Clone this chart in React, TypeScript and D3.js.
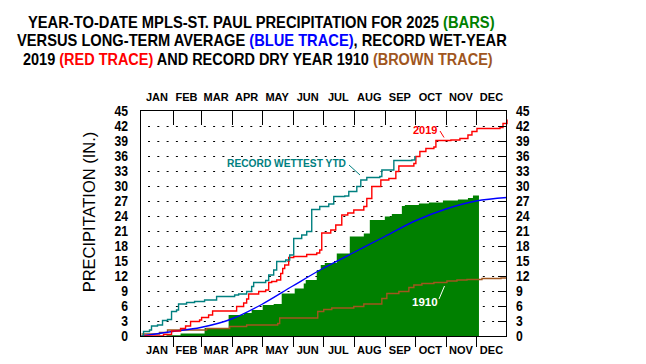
import React, { useLayoutEffect, useRef, useState } from 'react';
import * as d3 from 'd3';

// day-of-year, cumulative inches
const monthNames = ['JAN', 'FEB', 'MAR', 'APR', 'MAY', 'JUN', 'JUL', 'AUG', 'SEP', 'OCT', 'NOV', 'DEC'];
const monthStarts = [0, 31, 59, 90, 120, 151, 181, 212, 243, 273, 304, 334, 365];
const yTicks = [0, 3, 6, 9, 12, 15, 18, 21, 24, 27, 30, 33, 36, 39, 42, 45];

const ytd2025: [number, number][] = [
  [0, 0], [25, 0.15], [39, 0.5], [63, 1.6], [87, 4.2], [102, 4.6], [110, 5.2], [121, 6.2],
  [132, 6.4], [140, 8.5], [153, 9.5], [162, 10.5], [164, 11.2], [175, 13.2], [179, 14.2],
  [183, 14.6], [195, 16.5], [208, 19.9], [222, 20.5], [228, 23.2], [243, 23.9], [250, 24.4],
  [260, 26.0], [263, 26.2], [277, 26.5], [287, 26.7], [301, 27.1], [316, 27.3], [326, 27.6],
  [331, 28.1], [337, 28.1],
];

// long-term average, cumulative at each month boundary
const avgMonthEnd = [0, 0.9, 1.7, 3.4, 6.3, 10.0, 13.5, 16.7, 19.9, 23.0, 25.4, 27.0, 27.7];

const wet2019: [number, number][] = [
  [0, 0], [22, 0.3], [30, 1.0], [39, 1.5], [44, 2.0], [49, 2.9], [58, 3.2], [60, 3.7],
  [67, 4.2], [71, 5.0], [95, 5.9], [102, 6.6], [105, 7.4], [107, 8.4], [117, 8.9], [124, 9.2],
  [127, 10.7], [130, 10.9], [135, 11.2], [139, 12.5], [141, 13.5], [143, 14.2], [147, 15.7],
  [152, 15.9], [165, 16.3], [175, 16.6], [178, 17.2], [180, 20.6], [189, 21.2], [194, 22.2],
  [200, 24.2], [206, 24.6], [212, 25.2], [222, 25.9], [225, 27.5], [230, 29.9], [239, 31.2],
  [247, 31.5], [254, 32.9], [257, 34.0], [272, 34.5], [274, 35.9], [278, 36.9], [284, 37.5],
  [292, 37.8], [294, 39.1], [309, 39.2], [318, 39.5], [326, 40.2], [330, 40.9], [335, 41.5],
  [358, 41.7], [361, 42.5], [365, 43.3],
];

const recordYtd: [number, number][] = [
  [0, 0], [2, 0.9], [8, 1.2], [10, 2.0], [16, 2.2], [21, 3.1], [26, 3.3], [30, 4.9], [35, 5.2],
  [37, 6.4], [45, 6.7], [53, 6.9], [63, 7.2], [75, 7.9], [93, 8.2], [97, 8.4], [105, 8.9],
  [110, 9.9], [112, 10.7], [124, 11.1], [127, 12.2], [132, 13.2], [135, 14.9], [144, 15.2],
  [148, 16.2], [152, 19.5], [160, 20.2], [165, 20.9], [170, 25.3], [178, 25.9], [187, 26.4],
  [192, 27.9], [203, 28.0], [207, 28.9], [215, 29.9], [219, 31.2], [225, 31.7], [238, 31.9],
  [240, 33.2], [252, 35.1], [270, 35.2], [273, 36.0],
];

const dry1910: [number, number][] = [
  [0, 0.4], [18, 0.7], [26, 1.2], [65, 1.5], [88, 1.9], [105, 2.2], [136, 2.5], [138, 3.6],
  [176, 4.9], [182, 5.3], [190, 5.6], [212, 5.9], [222, 6.4], [240, 7.5], [245, 8.5],
  [257, 8.9], [267, 9.7], [272, 10.2], [280, 10.5], [292, 10.7], [305, 11.0], [315, 11.2],
  [325, 11.3], [340, 11.5], [359, 11.6], [365, 11.6],
];

const GREEN = '#008000';
const BLUE = '#0000ff';
const RED = '#ff0000';
const TEAL = '#008080';
const BROWN = '#a0561e';
const FONT = '"Liberation Sans", Arial, sans-serif';

// title lines: [left x, baseline, target width]
const titlePos = [[28, 28, 467], [17, 46, 490], [23, 65, 470]];

const App = () => {
  const width = 646;
  const height = 364;
  const left = 140.5, right = 506.5, top = 110.5, bottom = 336.5;

  const titleRefs = [useRef<SVGTextElement>(null), useRef<SVGTextElement>(null), useRef<SVGTextElement>(null)];
  const [scales, setScales] = useState([1, 1, 1]);

  useLayoutEffect(() => {
    const s = titleRefs.map((r, i) => {
      const w = r.current ? r.current.getComputedTextLength() : 0;
      return w > 0 ? titlePos[i][2] / w : 1;
    });
    setScales(s);
  }, []);

  const x = d3.scaleLinear().domain([0, 365]).range([141.5, 507]);
  const y = d3.scaleLinear().domain([0, 45]).range([336, 111]);

  const stepLine = d3.line<[number, number]>()
    .x(d => x(d[0])).y(d => y(d[1])).curve(d3.curveStepAfter);
  const area = d3.area<[number, number]>()
    .x(d => x(d[0])).y0(y(0)).y1(d => y(d[1])).curve(d3.curveStepAfter);
  const avgLine = d3.line<number>()
    .x((d, i) => x(monthStarts[i])).y(d => y(d)).curve(d3.curveMonotoneX);

  const snap = (v: number) => Math.round(v) + 0.5;
  const tf = (i: number) => `translate(${titlePos[i][0]},${titlePos[i][1]}) scale(${scales[i]},1)`;

  return (
    <div style={{ position: 'absolute', left: 0, top: 0 }}>
      <svg width={width} height={height} style={{ display: 'block', background: '#fff' }}>
        <g fontFamily={FONT} fontWeight="bold" fontSize={16}>
          <text ref={titleRefs[0]} transform={tf(0)}>
            YEAR-TO-DATE MPLS-ST. PAUL PRECIPITATION FOR 2025 <tspan fill={GREEN}>(BARS)</tspan>
          </text>
          <text ref={titleRefs[1]} transform={tf(1)}>
            VERSUS LONG-TERM AVERAGE <tspan fill={BLUE}>(BLUE TRACE)</tspan>, RECORD WET-YEAR
          </text>
          <text ref={titleRefs[2]} transform={tf(2)}>
            2019 <tspan fill={RED}>(RED TRACE)</tspan> AND RECORD DRY YEAR 1910 <tspan fill={BROWN}>(BROWN TRACE)</tspan>
          </text>
        </g>

        {/* dotted grid */}
        <g>
          {yTicks.filter(v => v > 0 && v < 45).map(v => (
            <line key={v} x1={148} x2={500} y1={snap(y(v))} y2={snap(y(v))}
              stroke="#000" strokeWidth={1} strokeDasharray="2 7.3" />
          ))}
        </g>

        <path d={area(ytd2025) || ''} fill={GREEN} />
        <path d={stepLine(dry1910) || ''} fill="none" stroke={BROWN} strokeWidth={1.4} />
        <path d={avgLine(avgMonthEnd) || ''} fill="none" stroke={BLUE} strokeWidth={1.4} />
        <path d={stepLine(wet2019) || ''} fill="none" stroke={RED} strokeWidth={1.4} />
        <path d={stepLine(recordYtd) || ''} fill="none" stroke={TEAL} strokeWidth={1.4} />

        {/* frame */}
        <rect x={left} y={top} width={right - left} height={bottom - top} fill="none" stroke="#000" strokeWidth={1} />

        {/* month ticks */}
        {monthStarts.slice(1, 12).map(d => (
          <g key={d}>
            <line x1={snap(x(d))} x2={snap(x(d))} y1={top} y2={125} stroke="#000" />
            <line x1={snap(x(d))} x2={snap(x(d))} y1={bottom} y2={347} stroke="#000" />
          </g>
        ))}
        {/* right ticks */}
        {yTicks.filter(v => v > 0 && v < 45).map(v => (
          <line key={v} x1={498} x2={right} y1={snap(y(v))} y2={snap(y(v))} stroke="#000" />
        ))}

        <g fontFamily={FONT} fontWeight="bold" fontSize={11} textAnchor="middle">
          {monthNames.map((m, i) => {
            const cx = x((monthStarts[i] + monthStarts[i + 1]) / 2);
            return (
              <g key={m}>
                <text x={cx} y={100.5}>{m}</text>
                <text x={cx} y={354}>{m}</text>
              </g>
            );
          })}
        </g>

        {/* y labels, a bit narrow like the original */}
        <g fontFamily={FONT} fontWeight="bold" fontSize={14.5}>
          {yTicks.map(v => (
            <g key={v}>
              <text transform={`translate(128,${y(v)}) scale(0.84,1)`} dy="0.36em" textAnchor="end">{v}</text>
              <text transform={`translate(516,${y(v)}) scale(0.84,1)`} dy="0.36em" textAnchor="start">{v}</text>
            </g>
          ))}
        </g>

        <text transform="translate(95,212) rotate(-90)" textAnchor="middle"
          fontFamily={FONT} fontSize={16.5}>PRECIPITATION (IN.)</text>

        {/* annotations */}
        <g fontFamily={FONT} fontWeight="bold">
          <text x={227} y={167} fontSize={10.5} fill={TEAL} textLength={119} lengthAdjust="spacingAndGlyphs">RECORD WETTEST YTD</text>
          <line x1={349} y1={165} x2={360} y2={175} stroke={TEAL} />
          <text x={413} y={134} fontSize={11} fill={RED}>2019</text>
          <line x1={440} y1={131} x2={444} y2={137.5} stroke={RED} />
          <text x={412} y={306} fontSize={11.5} fill="#fff">1910</text>
          <line x1={439} y1={299} x2={444.5} y2={286} stroke="#fff" />
        </g>
      </svg>
    </div>
  );
};

export default App;
